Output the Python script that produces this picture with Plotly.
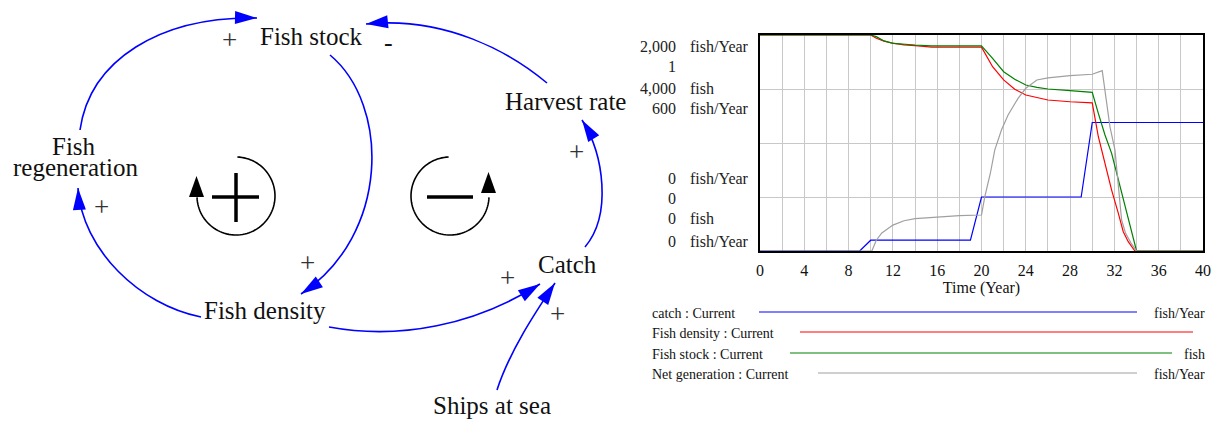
import numpy as np
import plotly.graph_objects as go

W, H = 1223, 421

# ---------------- data ----------------
time_ticks = [0, 4, 8, 12, 16, 20, 24, 28, 32, 36, 40]

catch_t = [0, 9, 10, 19, 20, 29, 30, 40]
catch_v = [0, 0, 100, 100, 500, 500, 1190, 1190]

density_t = [0, 10, 10.5, 11.2, 12, 13, 14, 15.5, 20, 21, 22, 23, 24, 25, 26, 28, 30,
             30.55, 31.15, 31.75, 32.35, 32.8, 33.25, 33.85, 40]
density_v = [1, 1, 0.985, 0.972, 0.962, 0.954, 0.951, 0.944, 0.944, 0.853, 0.792, 0.749,
             0.722, 0.710, 0.699, 0.691, 0.686, 0.529, 0.406, 0.282, 0.175, 0.089, 0.043, 0, 0]

stock_t = [0, 10, 10.5, 11.2, 12, 13, 14, 15.5, 20, 21, 22, 23, 24, 25, 26, 28, 30,
           30.55, 31.15, 31.75, 32.35, 32.96, 33.56, 34, 40]
stock_v = [4000, 4000, 3970, 3890, 3845, 3826, 3815, 3800, 3800, 3569, 3320, 3180, 3074,
           3031, 3000, 2969, 2939, 2550, 2148, 1809, 1315, 820, 328, 0, 0]

netgen_t = [0, 10.1, 10.5, 11, 12, 13, 14, 16, 18, 20, 20.3, 20.8, 21.2, 21.8, 22.4, 23.3,
            24, 25, 26, 28, 30, 30.9, 31.15, 31.6, 32.05, 32.35, 32.65, 33, 33.5, 34, 40]
netgen_v = [0, 0, 30, 50, 72, 84, 90, 95, 98, 100, 151, 216, 281, 336, 378, 424,
            452, 475, 481, 487, 491, 501, 447, 345, 281, 179, 86, 50, 22, 0, 0]

series_names = ["catch", "Fish density", "Fish stock", "Net generation"]
series_units = ["fish/Year", "", "fish", "fish/Year"]
series_max = [2000, 1, 4000, 600]
series_max_text = ["2,000", "1", "4,000", "600"]
series_colors = ["#0000ff", "#ff0000", "#008000", "#a0a0a0"]
series_t = [catch_t, density_t, stock_t, netgen_t]
series_v = [catch_v, density_v, stock_v, netgen_v]
series_axes = ["y", "y2", "y3", "y4"]

# causal loop diagram nodes (text)
node_text = ["Fish stock", "Harvest rate", "Fish", "regeneration", "Fish density", "Catch", "Ships at sea"]
node_xy = [(311, 36), (565, 101), (74, 146), (75, 167), (265, 310), (567, 264), (492, 405)]
polarity_text = ["+", "-", "+", "+", "+", "+", "+"]
polarity_xy = [(229, 40), (388, 42), (576, 152), (101, 207), (307, 263), (507, 278), (557, 314)]

# links: start, control1, control2, tip
links = [
    [(80, 130), (90, 60), (160, 16), (257, 18)],     # regeneration -> stock
    [(330, 55), (390, 105), (390, 235), (301, 294)],  # stock -> density
    [(547, 83), (510, 52), (445, 16), (366, 24)],     # harvest -> stock
    [(585, 247), (612, 215), (604, 155), (582, 120)], # catch -> harvest
    [(201, 317), (140, 305), (82, 250), (78, 188)],   # density -> regeneration
    [(329, 327), (400, 340), (475, 325), (540, 284)], # density -> catch
    [(497, 390), (510, 350), (537, 310), (555, 283)], # ships -> catch
]

FONT = "Liberation Serif"

def px(x):
    return x / W

def py(y):
    return 1 - y / H

fig = go.Figure()

# ---------------- time series ----------------
order = [3, 2, 1, 0]
for i in order:
    fig.add_trace(go.Scatter(
        x=series_t[i], y=series_v[i], mode="lines", name=series_names[i],
        line=dict(color=series_colors[i], width=1.2),
        xaxis="x", yaxis=series_axes[i], showlegend=False, hoverinfo="skip"))

fig.add_trace(go.Scatter(x=[], y=[], xaxis="x5", yaxis="y5", showlegend=False, hoverinfo="skip"))

ydom = [py(251), py(35)]
grid = "#c8c8c8"
layout = dict(
    width=W, height=H, margin=dict(l=0, r=0, t=0, b=0, pad=0, autoexpand=False), autosize=False,
    paper_bgcolor="white", plot_bgcolor="white", showlegend=False,
    font=dict(family=FONT, color="#111"),
    xaxis=dict(domain=[px(760), px(1203)], range=[0, 40], tickvals=time_ticks,
               ticktext=[str(v) for v in time_ticks], automargin=False,
               showgrid=True, gridcolor=grid, gridwidth=1,
               minor=dict(dtick=2, showgrid=True, gridcolor=grid, gridwidth=1),
               showline=True, mirror=True, linecolor="black", linewidth=2,
               zeroline=False, ticks="", ticklabelstandoff=4,
               tickfont=dict(family=FONT, size=16, color="#111"),
               title=dict(text="Time (Year)", font=dict(family=FONT, size=16, color="#111"), standoff=1),
               anchor="y"),
    yaxis=dict(domain=ydom, range=[0, series_max[0]], dtick=series_max[0] / 4,
               showgrid=True, gridcolor=grid, gridwidth=1, showticklabels=False,
               showline=True, mirror=True, linecolor="black", linewidth=2, automargin=False,
               zeroline=False, ticks="", anchor="x"),
    yaxis2=dict(domain=ydom, range=[0, series_max[1]], overlaying="y", visible=False, anchor="x", automargin=False),
    yaxis3=dict(domain=ydom, range=[0, series_max[2]], overlaying="y", visible=False, anchor="x", automargin=False),
    yaxis4=dict(domain=ydom, range=[0, series_max[3]], overlaying="y", visible=False, anchor="x", automargin=False),
    xaxis5=dict(domain=[0, px(640)], range=[0, 640], visible=False, anchor="y5", fixedrange=True, automargin=False),
    yaxis5=dict(domain=[0, 1], range=[H, 0], visible=False, anchor="x5", fixedrange=True, automargin=False),
)
fig.update_layout(**layout)

shapes = []
annotations = []

# ---------------- multi-scale axis labels ----------------
top_rows = [46, 67, 88, 109]
bot_rows = [178, 198, 219, 241]
for i in range(4):
    for yy, num in ((top_rows[i], series_max_text[i]), (bot_rows[i], "0")):
        annotations.append(dict(x=px(678), y=py(yy), xref="paper", yref="paper", text=num,
                                showarrow=False, xanchor="right", yanchor="middle",
                                font=dict(family=FONT, size=16, color="#222")))
        if series_units[i]:
            annotations.append(dict(x=px(688), y=py(yy), xref="paper", yref="paper",
                                    text=series_units[i], showarrow=False, xanchor="left",
                                    yanchor="middle", font=dict(family=FONT, size=16, color="#222")))

# ---------------- custom legend ----------------
leg_rows = [313, 333, 354, 374]
leg_line = [(759, 1137), (800, 1193), (790, 1172), (818, 1137)]
for i in range(4):
    annotations.append(dict(x=px(650), y=py(leg_rows[i]), xref="paper", yref="paper",
                            text=series_names[i] + " : Current", showarrow=False,
                            xanchor="left", yanchor="middle",
                            font=dict(family=FONT, size=14, color="#111")))
    if series_units[i]:
        annotations.append(dict(x=px(1207), y=py(leg_rows[i]), xref="paper", yref="paper",
                                text=series_units[i], showarrow=False, xanchor="right",
                                yanchor="middle", font=dict(family=FONT, size=14, color="#111")))
    shapes.append(dict(type="line", xref="paper", yref="paper",
                       x0=px(leg_line[i][0]), x1=px(leg_line[i][1]),
                       y0=py(leg_rows[i] - 1), y1=py(leg_rows[i] - 1),
                       line=dict(color=series_colors[i], width=1.2)))

# ---------------- causal loop diagram ----------------
BLUE = "#0000ff"

def arrowhead(tip, back, length=22, half=6.5, color=BLUE):
    tx, ty = tip
    dx, dy = tx - back[0], ty - back[1]
    n = (dx * dx + dy * dy) ** 0.5
    dx, dy = dx / n, dy / n
    bx, by = tx - length * dx, ty - length * dy
    nx, ny = -dy, dx
    p1 = (bx + half * nx, by + half * ny)
    p2 = (bx - half * nx, by - half * ny)
    return dict(type="path", xref="x5", yref="y5",
                path=f"M {tx},{ty} L {p1[0]},{p1[1]} L {p2[0]},{p2[1]} Z",
                fillcolor=color, line=dict(width=0))

for (p0, p1, p2, p3) in links:
    shapes.append(dict(type="path", xref="x5", yref="y5",
                       path=f"M {p0[0]},{p0[1]} C {p1[0]},{p1[1]} {p2[0]},{p2[1]} {p3[0]},{p3[1]}",
                       line=dict(color=BLUE, width=1.6)))
    shapes.append(arrowhead(p3, p2))

def arc_path(cx, cy, r, a0, a1, n=80):
    th = np.radians(np.linspace(a0, a1, n))
    xs = cx + r * np.cos(th)
    ys = cy + r * np.sin(th)
    return "M " + " L ".join(f"{x:.2f},{y:.2f}" for x, y in zip(xs, ys))

# reinforcing loop (left)
shapes.append(dict(type="path", xref="x5", yref="y5", path=arc_path(236, 196, 39, -88, 178),
                   line=dict(color="black", width=1.6)))
shapes.append(arrowhead((196.5, 176), (196.5, 200), length=21, half=7.5, color="black"))
shapes.append(dict(type="line", xref="x5", yref="y5", x0=212, x1=259, y0=197, y1=197,
                   line=dict(color="black", width=3.5)))
shapes.append(dict(type="line", xref="x5", yref="y5", x0=236, x1=236, y0=173, y1=222,
                   line=dict(color="black", width=3.5)))
# balancing loop (right)
shapes.append(dict(type="path", xref="x5", yref="y5", path=arc_path(450, 196, 39, -92, -358),
                   line=dict(color="black", width=1.6)))
shapes.append(arrowhead((488.5, 172), (488.5, 200), length=21, half=7.5, color="black"))
shapes.append(dict(type="line", xref="x5", yref="y5", x0=427, x1=473, y0=197, y1=197,
                   line=dict(color="black", width=3.5)))

for txt, (x, y) in zip(node_text, node_xy):
    annotations.append(dict(x=x, y=y, xref="x5", yref="y5", text=txt, showarrow=False,
                            xanchor="center", yanchor="middle",
                            font=dict(family=FONT, size=25, color="#111")))
for txt, (x, y) in zip(polarity_text, polarity_xy):
    annotations.append(dict(x=x, y=y, xref="x5", yref="y5", text=txt, showarrow=False,
                            xanchor="center", yanchor="middle",
                            font=dict(family=FONT, size=27 if txt == "+" else 26,
                                      color="#333" if txt == "+" else "#111")))

fig.update_layout(shapes=shapes, annotations=annotations)

fig.write_html("out.html", config={"displayModeBar": False},
               post_script="document.body.style.margin='0px';document.body.style.overflow='hidden';")
